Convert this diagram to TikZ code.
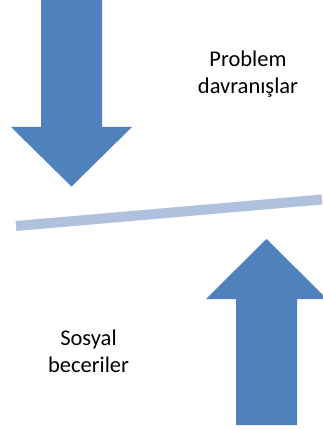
\documentclass[tikz,border=0pt]{standalone}
\usepackage{fontspec}
\setmainfont{Carlito}
\definecolor{arrowblue}{HTML}{4F81BD}
\definecolor{barblue}{HTML}{B0C1DD}
\begin{document}
\begin{tikzpicture}[x=1pt,y=-1pt,
  bigarrow/.style={fill=arrowblue,draw=none},
  lbl/.style={align=center,inner sep=0pt,font=\fontsize{22.5}{27}\selectfont,text=black}]
\useasboundingbox (0,0) rectangle (323,430);
\fill[white] (0,0) rectangle (323,430);
% down arrow
\fill[bigarrow] (41,0) -- (102,0) -- (102,127) -- (132,127) -- (71.5,186.5) -- (11,127) -- (41,127) -- cycle;
% up arrow
\begin{scope}
\clip (0,0) rectangle (323,430);
\fill[bigarrow] (236,425) -- (297,425) -- (297,299) -- (327,299) -- (266.5,239) -- (206,299) -- (236,299) -- cycle;
\end{scope}
% bar
\coordinate (barL) at (16,226);
\coordinate (barR) at (322,199.5);
\draw[barblue,line width=10pt,line cap=butt] (barL) -- (barR);
% labels
\node[lbl,anchor=base] (prob) at (248,94) {Problem\\davranışlar};
\node[lbl,anchor=base] (sos) at (88.5,372) {Sosyal\\beceriler};
\end{tikzpicture}
\end{document}
